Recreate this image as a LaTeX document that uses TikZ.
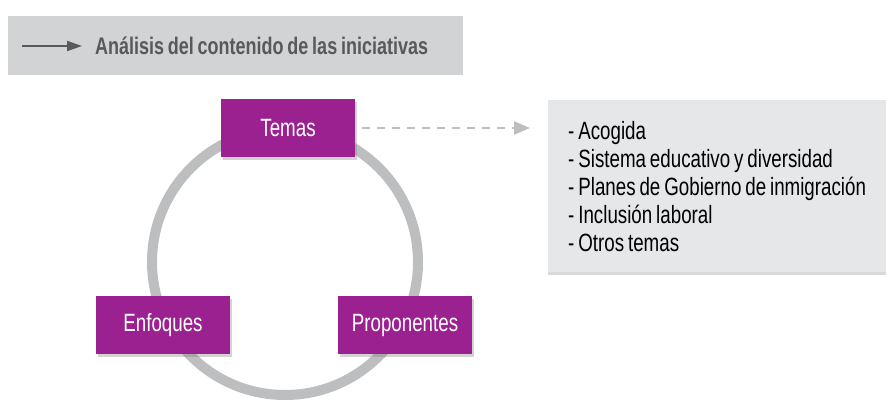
\documentclass[tikz,border=0pt]{standalone}
\usepackage{fontspec}
\setmainfont[FakeStretch=0.75, WordSpace=0.75]{Liberation Sans}
\usetikzlibrary{arrows.meta,shadows}
\definecolor{morado}{HTML}{9B2191}
\definecolor{grisanillo}{HTML}{BCBEC0}
\definecolor{gristitulo}{HTML}{D1D3D4}
\definecolor{grislista}{HTML}{E6E7E8}
\definecolor{gristexto}{HTML}{58595B}
\tikzset{
  caja/.style={fill=morado, text=white, minimum width=134pt, minimum height=58pt, inner sep=0pt,
    font=\fontsize{25}{30}\selectfont, drop shadow={shadow xshift=2pt, shadow yshift=-3pt, opacity=0.35}},
  lista/.style={fill=grislista, anchor=north west, minimum width=338pt, minimum height=172pt,
    text width=330pt, inner xsep=20pt, align=flush left, font=\fontsize{25}{28}\selectfont,
    drop shadow={shadow xshift=0pt, shadow yshift=-3pt, opacity=0.3}},
}
\begin{document}
\begin{tikzpicture}[x=1pt,y=-1pt]
		\useasboundingbox (0,0) rectangle (886,409);
		\node[fill=gristitulo, anchor=north west, minimum width=455pt, minimum height=59pt] (marco) at (8,16) {};
		\node[anchor=west, text=gristexto, inner sep=0pt, font=\fontsize{24}{28}\selectfont\bfseries] (titulo) at (95,46) {Análisis del contenido de las iniciativas};
		\coordinate (inicio) at (22,46);
		\draw[gristexto, line width=2pt, -{Triangle[length=15pt, width=10pt]}, shorten >=13pt] (inicio) -- (titulo.west);
		\draw[grisanillo, line width=10pt] (285,262) circle (133);
		\node[caja] (temas) at (288,128) {Temas};
		\node[caja] (enfoques) at (163,325) {Enfoques};
		\node[caja] (proponentes) at (405,325) {Proponentes};
		\node[lista] (lista) at (548,100) {- Acogida\\- Sistema educativo y diversidad\\- Planes de Gobierno de inmigración\\- Inclusión laboral\\- Otros temas};
		\draw[grisanillo, line width=2pt, dash pattern=on 8pt off 7pt, -{Triangle[length=16pt, width=13pt]}, shorten <=7pt, shorten >=18pt] (temas.east) -- (temas.east -| lista.west);
\end{tikzpicture}
\end{document}
